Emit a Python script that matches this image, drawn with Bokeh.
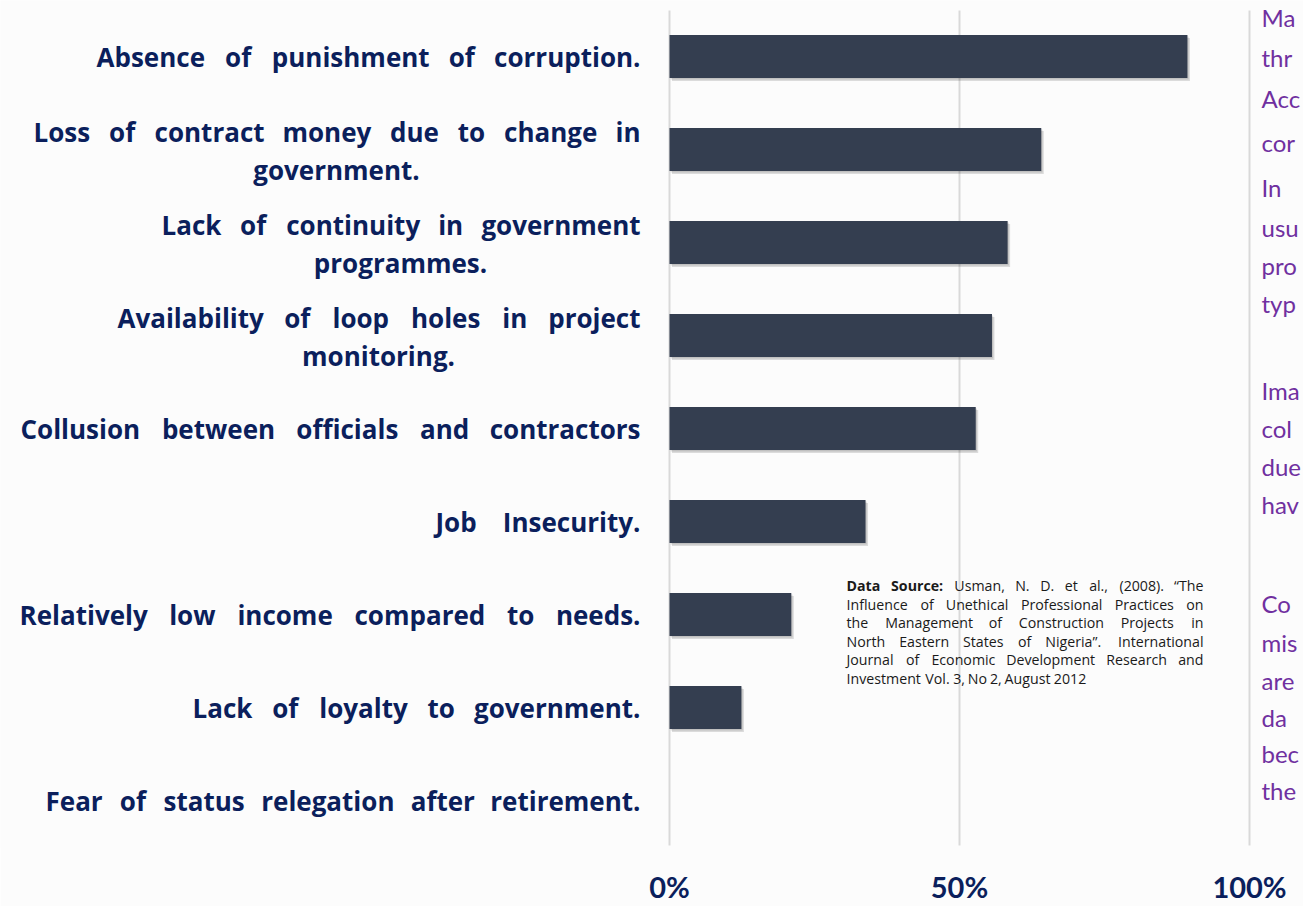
from bokeh.plotting import figure
from bokeh.models import Range1d, FixedTicker, PrintfTickFormatter
from bokeh.core.properties import value
from bokeh.embed import file_html
from bokeh.resources import INLINE

# ---------------- data ----------------
categories = [
    "Absence of punishment of corruption.",
    "Loss of contract money due to change in\ngovernment.",
    "Lack of continuity in government\nprogrammes.",
    "Availability of loop holes in project\nmonitoring.",
    "Collusion between officials and contractors",
    "Job Insecurity.",
    "Relatively low income compared to needs.",
    "Lack of loyalty to government.",
    "Fear of status relegation after retirement.",
]
percent = [89.3, 64.1, 58.3, 55.6, 52.8, 33.8, 21.0, 12.4, 0.0]
ticks = [0, 50, 100]

source_bold = "Data Source:"
source_lines = [
    "Usman, N. D. et al., (2008). \u201cThe",
    "Influence of Unethical Professional Practices on",
    "the Management of Construction Projects in",
    "North Eastern States of Nigeria\u201d. International",
    "Journal of Economic Development Research and",
    "Investment Vol. 3, No 2, August 2012",
]
side_text = ["Ma", "thr", "Acc", "cor", "In", "usu", "pro", "typ",
             "Ima", "col", "due", "hav",
             "Co", "mis", "are", "da", "bec", "the"]

# ---------------- layout (screen px) ----------------
W, H = 1303, 906
BOTTOM = 58
FRAME_H = H - BOTTOM
PX0, PPU = 669.0, 5.8          # x pixel of 0 %, pixels per percent
PY0, PPC = 56.0, 93.0          # y pixel of first bar centre, pixels per category
LABEL_RIGHT = 640              # right edge of the justified label block
# left edge of each justified first line and centre of each second line
line_left = [96, 33, 161, 117, 20, 435, 19, 192, 45]
second_centre = {1: 336, 2: 400, 3: 378}
SRC_LEFT, SRC_RIGHT = 846, 1203


def dx(px):
    return (px - PX0) / PPU


def dy(px):
    return (px - PY0) / PPC


# rough advance widths (em) of Open Sans Bold, used to justify lines
_W = dict(a=.60, b=.63, c=.51, d=.63, e=.59, f=.39, g=.56, h=.65, i=.30, j=.30,
          k=.60, l=.30, m=.98, n=.65, o=.62, p=.63, q=.63, r=.45, s=.50, t=.42,
          u=.65, v=.56, w=.85, x=.58, y=.56, z=.48,
          A=.69, B=.68, C=.65, D=.74, E=.56, F=.55, G=.73, I=.35, J=.33, L=.55,
          M=.92, N=.79, O=.79, P=.66, R=.68, S=.58, T=.58, U=.76, V=.65)
_W.update({".": .28, ",": .28, ":": .28, "(": .35, ")": .35, "\u201c": .45,
           "\u201d": .45, " ": .26})
for d in "0123456789":
    _W[d] = .57


def text_w(s, size, bold=True):
    w = sum(_W.get(ch, .6) for ch in s) * size
    return w if bold else w * 0.93


NAVY = "#0b1f5c"
BAR = "#343e50"
PURPLE = "#7030a0"
BG = "#fcfcfc"
FONT = value("Open Sans")
LSIZE = 26
SSIZE = 14.2

p = figure(width=W, height=H, output_backend="svg", toolbar_location=None,
           x_range=Range1d(dx(0), dx(W)), y_range=Range1d(dy(FRAME_H), dy(0)),
           y_axis_location=None,
           min_border_left=0, min_border_right=0, min_border_top=0,
           min_border_bottom=BOTTOM,
           background_fill_color=BG, border_fill_color=BG, outline_line_color=None)
p.xgrid.visible = False
p.ygrid.visible = False

ax = p.xaxis[0]
ax.ticker = FixedTicker(ticks=ticks)
ax.formatter = PrintfTickFormatter(format="%d%%")
ax.axis_line_color = None
ax.major_tick_line_color = None
ax.minor_tick_line_color = None
ax.major_tick_out = 0
ax.major_tick_in = 0
ax.major_label_standoff = 20
ax.major_label_text_font = "Lato"
ax.major_label_text_font_style = "bold"
ax.major_label_text_font_size = "29px"
ax.major_label_text_color = NAVY

# grid lines
p.segment(x0=ticks, x1=ticks, y0=[dy(10)] * len(ticks), y1=[dy(845)] * len(ticks),
          line_color="#d9d9d9", line_width=2)

ys = list(range(len(categories)))

# bar shadows and bars
p.hbar(y=[y + 3 / PPC for y in ys], left=[2.5 / PPU] * len(ys),
       right=[v + 2.5 / PPU if v > 0 else 2.5 / PPU for v in percent],
       height=0.46, fill_color="black", fill_alpha=0.13, line_color=None)
p.hbar(y=[y + 1.5 / PPC for y in ys], left=[1.2 / PPU] * len(ys),
       right=[v + 1.2 / PPU if v > 0 else 1.2 / PPU for v in percent],
       height=0.46, fill_color="black", fill_alpha=0.12, line_color=None)
p.hbar(y=ys, left=0, right=percent, height=0.46, fill_color=BAR, line_color=None)


def justified(words, left, right, size, bold):
    """x pixel (left edge) of each word for a justified line."""
    widths = [text_w(w, size, bold) for w in words]
    if len(words) == 1:
        return [left]
    gap = (right - left - sum(widths)) / (len(words) - 1)
    xs, cur = [], left
    for w in widths:
        xs.append(cur)
        cur += w + gap
    return xs


# category labels
for i, lab in enumerate(categories):
    parts = lab.split("\n")
    words = parts[0].split(" ")
    xs = justified(words, line_left[i], LABEL_RIGHT, LSIZE, True)
    off = -18 if len(parts) > 1 else 0
    # all words but the last are left-anchored, the last is right-anchored
    p.text(x=[dx(v) for v in xs[:-1]], y=[i] * (len(words) - 1), text=words[:-1],
           y_offset=off, text_align="left", text_baseline="middle", text_font=FONT,
           text_font_style="bold", text_font_size=f"{LSIZE}px", text_color=NAVY)
    p.text(x=[dx(LABEL_RIGHT)], y=[i], text=[words[-1]], y_offset=off,
           text_align="right", text_baseline="middle", text_font=FONT,
           text_font_style="bold", text_font_size=f"{LSIZE}px", text_color=NAVY)
    if len(parts) > 1:
        p.text(x=[dx(second_centre[i])], y=[i], text=[parts[1]], y_offset=20,
               text_align="center", text_baseline="middle", text_font=FONT,
               text_font_style="bold", text_font_size=f"{LSIZE}px", text_color=NAVY)

# data source note (justified, last line left aligned)
src_y = [dy(585 + 18.6 * k) for k in range(len(source_lines))]
bx, by, bt, bb = [], [], [], []
for k, line in enumerate(source_lines):
    words = line.split(" ")
    bold = [False] * len(words)
    if k == 0:
        words = source_bold.split(" ") + words
        bold = [True, True] + bold
    if k == len(source_lines) - 1:
        xs, cur = [], SRC_LEFT
        for w in words:
            xs.append(cur)
            cur += text_w(w + " ", SSIZE, False)
    else:
        widths = [text_w(w, SSIZE, b) for w, b in zip(words, bold)]
        gap = (SRC_RIGHT - SRC_LEFT - sum(widths)) / (len(words) - 1)
        xs, cur = [], SRC_LEFT
        for w in widths:
            xs.append(cur)
            cur += w + gap
    for j, (w, x, b) in enumerate(zip(words, xs, bold)):
        last = (j == len(words) - 1) and k != len(source_lines) - 1
        bx.append(dx(SRC_RIGHT if last else x))
        by.append(src_y[k])
        bt.append(w)
        bb.append(("bold" if b else "normal") + ("|R" if last else "|L"))

for style in ("bold", "normal"):
    for anchor, align in (("L", "left"), ("R", "right")):
        sel = [j for j in range(len(bt)) if bb[j] == f"{style}|{anchor}"]
        if sel:
            p.text(x=[bx[j] for j in sel], y=[by[j] for j in sel],
                   text=[bt[j] for j in sel], text_align=align,
                   text_baseline="middle", text_font=FONT, text_font_style=style,
                   text_font_size=f"{SSIZE}px", text_color="#1a1a1a")

# side text (cut at the page edge)
side_px = [17, 57, 98, 142, 187, 227, 265, 303, 390, 428, 466, 504,
           603, 642, 680, 717, 753, 790]
p.text(x=[dx(1261)] * len(side_text), y=[dy(v) for v in side_px], text=side_text,
       text_align="left", text_baseline="middle", text_font=value("Lato"),
       text_font_size="24px", text_color=PURPLE)

open("out.html", "w").write(file_html(p, INLINE))
